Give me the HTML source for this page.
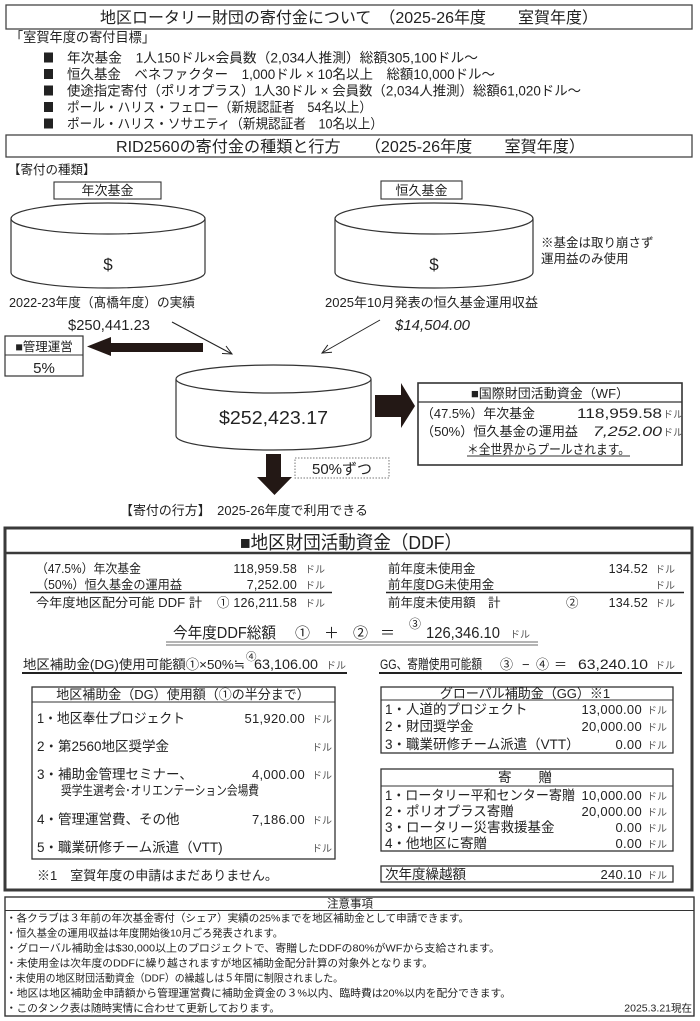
<!DOCTYPE html>
<html><head><meta charset="utf-8">
<style>
html,body{margin:0;padding:0;background:#fff;}
svg{display:block;}
text{font-family:"Liberation Sans","Noto Sans CJK JP",sans-serif;fill:#222;}
.dl{font-size:10px;fill:#555;}
.num{font-family:"Liberation Sans",sans-serif;}
</style></head><body>
<svg width="700" height="1021" viewBox="0 0 700 1021" xmlns="http://www.w3.org/2000/svg">
<rect x="0" y="0" width="700" height="1021" fill="#fff"/>

<!-- Title 1 -->
<rect x="6" y="5" width="686" height="24" fill="none" stroke="#444" stroke-width="1.3"/>
<text x="100" y="23" font-size="16" textLength="498" lengthAdjust="spacingAndGlyphs">地区ロータリー財団の寄付金について　（2025-26年度　　室賀年度）</text>

<text x="10" y="42" font-size="13.5" textLength="145" lengthAdjust="spacingAndGlyphs">「室賀年度の寄付目標」</text>

<rect x="44" y="52.5" width="9" height="10" fill="#222"/>
<text x="67" y="62.5" font-size="13.5" textLength="411" lengthAdjust="spacingAndGlyphs">年次基金　1人150ドル×会員数（2,034人推測）総額305,100ドル～</text>
<rect x="44" y="69" width="9" height="10" fill="#222"/>
<text x="67" y="79" font-size="13.5" textLength="428" lengthAdjust="spacingAndGlyphs">恒久基金　ベネファクター　1,000ドル × 10名以上　総額10,000ドル～</text>
<rect x="44" y="85.5" width="9" height="10" fill="#222"/>
<text x="67" y="95.5" font-size="13.5" textLength="514" lengthAdjust="spacingAndGlyphs">使途指定寄付（ポリオプラス）1人30ドル × 会員数（2,034人推測）総額61,020ドル～</text>
<rect x="44" y="102" width="9" height="10" fill="#222"/>
<text x="67" y="112" font-size="13.5" textLength="305" lengthAdjust="spacingAndGlyphs">ポール・ハリス・フェロー（新規認証者　54名以上）</text>
<rect x="44" y="118.5" width="9" height="10" fill="#222"/>
<text x="67" y="128.5" font-size="13.5" textLength="316" lengthAdjust="spacingAndGlyphs">ポール・ハリス・ソサエティ（新規認証者　10名以上）</text>

<!-- Title 2 -->
<rect x="6" y="135" width="686" height="22" fill="none" stroke="#444" stroke-width="1.3"/>
<text x="116" y="152" font-size="16" textLength="469" lengthAdjust="spacingAndGlyphs">RID2560の寄付金の種類と行方　　（2025-26年度　　室賀年度）</text>

<text x="8" y="174" font-size="12.5">【寄付の種類】</text>

<!-- label boxes -->
<rect x="54" y="182" width="107" height="17" fill="#fff" stroke="#333" stroke-width="1.1"/>
<text x="107.5" y="195" font-size="13" text-anchor="middle">年次基金</text>
<rect x="381" y="181" width="81" height="18" fill="#fff" stroke="#333" stroke-width="1.1"/>
<text x="421.5" y="195" font-size="13" text-anchor="middle">恒久基金</text>

<!-- Cylinder 1 -->
<path d="M11 218.5 V272.5 A97 15.5 0 0 0 205 272.5 V218.5" fill="#fff" stroke="#333" stroke-width="1.2"/>
<ellipse cx="108" cy="218.5" rx="97" ry="15.5" fill="#fff" stroke="#333" stroke-width="1.2"/>
<text x="108" y="270" font-size="17" text-anchor="middle">$</text>

<!-- Cylinder 2 -->
<path d="M335 218.5 V272.5 A99 15.5 0 0 0 533 272.5 V218.5" fill="#fff" stroke="#333" stroke-width="1.2"/>
<ellipse cx="434" cy="218.5" rx="99" ry="15.5" fill="#fff" stroke="#333" stroke-width="1.2"/>
<text x="434" y="270" font-size="17" text-anchor="middle">$</text>

<text x="541" y="247" font-size="12.5">※基金は取り崩さず</text>
<text x="541" y="263" font-size="12.5">運用益のみ使用</text>

<text x="9" y="307" font-size="13" textLength="186" lengthAdjust="spacingAndGlyphs">2022-23年度（髙橋年度）の実績</text>
<text x="68" y="330" font-size="14.5" textLength="82" lengthAdjust="spacingAndGlyphs">$250,441.23</text>
<text x="325" y="307" font-size="13" textLength="213" lengthAdjust="spacingAndGlyphs">2025年10月発表の恒久基金運用収益</text>
<text x="395" y="330" font-size="14.5" font-style="italic" textLength="75" lengthAdjust="spacingAndGlyphs">$14,504.00</text>

<!-- thin connector lines -->
<line x1="172" y1="322" x2="232" y2="354" stroke="#222" stroke-width="1"/>
<polyline points="222,353.5 232,354 226,346" fill="none" stroke="#222" stroke-width="1"/>
<line x1="380" y1="320" x2="322" y2="353" stroke="#222" stroke-width="1"/>
<polyline points="327.8,344.9 322,353 332,352.2" fill="none" stroke="#222" stroke-width="1"/>

<!-- 管理運営 -->
<rect x="5" y="336" width="78" height="40" fill="#fff" stroke="#333" stroke-width="1.2"/>
<line x1="5" y1="355" x2="83" y2="355" stroke="#333" stroke-width="1.1"/>
<text x="44" y="351" font-size="12.5" text-anchor="middle">■管理運営</text>
<text x="44" y="373" font-size="15" text-anchor="middle">5%</text>

<!-- left big arrow -->
<polygon points="87,346.5 111,337 111,343 203,343 203,352 111,352 111,356" fill="#231815"/>

<!-- Central cylinder -->
<path d="M176 379 V436 A97.5 14 0 0 0 371 436 V379" fill="#fff" stroke="#333" stroke-width="1.2"/>
<ellipse cx="273.5" cy="379" rx="97.5" ry="14" fill="#fff" stroke="#333" stroke-width="1.2"/>
<text x="219" y="424" font-size="18" textLength="109" lengthAdjust="spacingAndGlyphs">$252,423.17</text>

<!-- right big arrow -->
<polygon points="375,395 401,395 401,383 415,406 401,428 401,417 375,417" fill="#231815"/>

<!-- WF box -->
<rect x="418" y="383" width="264" height="82" fill="#fff" stroke="#333" stroke-width="1.6"/>
<line x1="418" y1="402" x2="682" y2="402" stroke="#333" stroke-width="1.2"/>
<text x="550" y="398" font-size="13" text-anchor="middle">■国際財団活動資金（WF）</text>
<text x="421" y="418" font-size="13" textLength="114" lengthAdjust="spacingAndGlyphs">（47.5%）年次基金</text>
<text x="577" y="418" font-size="14" class="num" textLength="85" lengthAdjust="spacingAndGlyphs">118,959.58</text>
<text x="663" y="418" class="dl">ドル</text>
<text x="421" y="436" font-size="13" textLength="157" lengthAdjust="spacingAndGlyphs">（50%）恒久基金の運用益</text>
<text x="593" y="436" font-size="14" font-style="italic" class="num" textLength="69" lengthAdjust="spacingAndGlyphs">7,252.00</text>
<text x="663" y="436" class="dl">ドル</text>
<text x="467" y="454" font-size="13" textLength="163" lengthAdjust="spacingAndGlyphs">＊全世界からプールされます。</text>
<line x1="467" y1="456" x2="630" y2="456" stroke="#333" stroke-width="1"/>

<!-- down arrow -->
<polygon points="266,454 281,454 281,477 292,477 274.5,495 257,477 266,477" fill="#231815"/>
<rect x="295" y="458" width="94" height="20" fill="none" stroke="#777" stroke-width="1" stroke-dasharray="1.5,1.5"/>
<text x="342" y="474" font-size="15" text-anchor="middle">50%ずつ</text>

<text x="120" y="515" font-size="13" textLength="248" lengthAdjust="spacingAndGlyphs">【寄付の行方】　2025-26年度で利用できる</text>

<!-- DDF box -->
<rect x="5" y="528" width="687" height="362" fill="none" stroke="#3a3a3a" stroke-width="3"/>
<line x1="5" y1="553" x2="692" y2="553" stroke="#3a3a3a" stroke-width="2.5"/>
<text x="240" y="549" font-size="18.5" textLength="222" lengthAdjust="spacingAndGlyphs">■地区財団活動資金（DDF）</text>

<text x="36" y="573" font-size="12.5" textLength="105" lengthAdjust="spacingAndGlyphs">（47.5%）年次基金</text>
<text x="297" y="573" font-size="12.5" class="num" text-anchor="end" letter-spacing="0.2">118,959.58</text>
<text x="305" y="573" class="dl">ドル</text>
<text x="36" y="589" font-size="12.5" textLength="146" lengthAdjust="spacingAndGlyphs">（50%）恒久基金の運用益</text>
<text x="297" y="589" font-size="12.5" class="num" text-anchor="end" letter-spacing="0.2">7,252.00</text>
<text x="305" y="589" class="dl">ドル</text>
<line x1="30" y1="592.5" x2="332" y2="592.5" stroke="#222" stroke-width="1.5"/>
<text x="36" y="607" font-size="12.5" textLength="166" lengthAdjust="spacingAndGlyphs">今年度地区配分可能 DDF 計</text>
<text x="217" y="607" font-size="12.5">①</text>
<text x="297" y="607" font-size="12.5" class="num" text-anchor="end" letter-spacing="0.2">126,211.58</text>
<text x="305" y="607" class="dl">ドル</text>

<text x="388" y="573" font-size="12.5">前年度未使用金</text>
<text x="648" y="573" font-size="12.5" class="num" text-anchor="end" letter-spacing="0.2">134.52</text>
<text x="655" y="573" class="dl">ドル</text>
<text x="388" y="589" font-size="12.5">前年度DG未使用金</text>
<text x="655" y="589" class="dl">ドル</text>
<line x1="386" y1="592.5" x2="684" y2="592.5" stroke="#222" stroke-width="1.5"/>
<text x="388" y="607" font-size="12.5">前年度未使用額　計</text>
<text x="566" y="607" font-size="12.5">②</text>
<text x="648" y="607" font-size="12.5" class="num" text-anchor="end" letter-spacing="0.2">134.52</text>
<text x="655" y="607" class="dl">ドル</text>

<text x="173" y="638" font-size="15.5" textLength="103" lengthAdjust="spacingAndGlyphs">今年度DDF総額</text>
<text x="295" y="638" font-size="15">①</text>
<text x="324" y="638" font-size="15">＋</text>
<text x="353" y="638" font-size="15">②</text>
<text x="380" y="638" font-size="15">＝</text>
<text x="409" y="628" font-size="12">③</text>
<text x="426" y="638" font-size="15.5" class="num" textLength="74" lengthAdjust="spacingAndGlyphs">126,346.10</text>
<text x="510" y="638" class="dl">ドル</text>
<line x1="166" y1="642" x2="538" y2="642" stroke="#888" stroke-width="1.2"/>
<line x1="166" y1="645" x2="538" y2="645" stroke="#888" stroke-width="1.2"/>

<text x="23" y="669" font-size="13" textLength="222" lengthAdjust="spacingAndGlyphs">地区補助金(DG)使用可能額①×50%≒</text>
<text x="246" y="660" font-size="10.5">④</text>
<text x="254" y="669" font-size="13.5" class="num" textLength="64" lengthAdjust="spacingAndGlyphs">63,106.00</text>
<text x="326" y="669" class="dl">ドル</text>
<line x1="22" y1="673" x2="347" y2="673" stroke="#222" stroke-width="2"/>

<text x="380" y="669" font-size="13.5" textLength="102" lengthAdjust="spacingAndGlyphs">GG、寄贈使用可能額</text>
<text x="500" y="669" font-size="13">③</text>
<text x="522" y="669" font-size="13">−</text>
<text x="536" y="669" font-size="13">④</text>
<text x="554" y="669" font-size="13">＝</text>
<text x="578" y="669" font-size="13.5" class="num" textLength="70" lengthAdjust="spacingAndGlyphs">63,240.10</text>
<text x="655" y="669" class="dl">ドル</text>
<line x1="379" y1="673" x2="682" y2="673" stroke="#222" stroke-width="2"/>

<!-- DG box -->
<rect x="32" y="687" width="303" height="172" fill="none" stroke="#333" stroke-width="1.3"/>
<line x1="32" y1="702" x2="335" y2="702" stroke="#333" stroke-width="1.1"/>
<text x="183" y="699" font-size="13" text-anchor="middle">地区補助金（DG）使用額（①の半分まで）</text>
<text x="37" y="723" font-size="13.5" textLength="148" lengthAdjust="spacingAndGlyphs">1・地区奉仕プロジェクト</text>
<text x="305" y="723" font-size="13" class="num" text-anchor="end" letter-spacing="0.3">51,920.00</text>
<text x="312" y="723" class="dl">ドル</text>
<text x="37" y="751" font-size="13.5">2・第2560地区奨学金</text>
<text x="312" y="751" class="dl">ドル</text>
<text x="37" y="779" font-size="13.5">3・補助金管理セミナー、</text>
<text x="305" y="779" font-size="13" class="num" text-anchor="end" letter-spacing="0.3">4,000.00</text>
<text x="312" y="779" class="dl">ドル</text>
<text x="61" y="795" font-size="13" textLength="198" lengthAdjust="spacingAndGlyphs">奨学生選考会･オリエンテーション会場費</text>
<text x="37" y="824" font-size="13.5">4・管理運営費、その他</text>
<text x="305" y="824" font-size="13" class="num" text-anchor="end" letter-spacing="0.3">7,186.00</text>
<text x="312" y="824" class="dl">ドル</text>
<text x="37" y="852" font-size="13.5">5・職業研修チーム派遣（VTT)</text>
<text x="312" y="852" class="dl">ドル</text>
<text x="37" y="880" font-size="13">※1　室賀年度の申請はまだありません。</text>

<!-- GG box -->
<rect x="381" y="687" width="292" height="66" fill="none" stroke="#333" stroke-width="1.3"/>
<line x1="381" y1="700" x2="673" y2="700" stroke="#333" stroke-width="1.1"/>
<text x="525" y="698" font-size="13" text-anchor="middle">グローバル補助金（GG）※1</text>
<text x="385" y="714" font-size="13.5">1・人道的プロジェクト</text>
<text x="642" y="714" font-size="13" class="num" text-anchor="end" letter-spacing="0.3">13,000.00</text>
<text x="647" y="714" class="dl">ドル</text>
<text x="385" y="731" font-size="13.5">2・財団奨学金</text>
<text x="642" y="731" font-size="13" class="num" text-anchor="end" letter-spacing="0.3">20,000.00</text>
<text x="647" y="731" class="dl">ドル</text>
<text x="385" y="749" font-size="13.5">3・職業研修チーム派遣（VTT）</text>
<text x="642" y="749" font-size="13" class="num" text-anchor="end" letter-spacing="0.3">0.00</text>
<text x="647" y="749" class="dl">ドル</text>

<!-- 寄贈 box -->
<rect x="381" y="769" width="292" height="82" fill="none" stroke="#333" stroke-width="1.3"/>
<line x1="381" y1="786" x2="673" y2="786" stroke="#333" stroke-width="1.1"/>
<text x="525" y="782" font-size="13.5" text-anchor="middle">寄　　贈</text>
<text x="385" y="800" font-size="13.5" textLength="190" lengthAdjust="spacingAndGlyphs">1・ロータリー平和センター寄贈</text>
<text x="642" y="800" font-size="13" class="num" text-anchor="end" letter-spacing="0.3">10,000.00</text>
<text x="647" y="800" class="dl">ドル</text>
<text x="385" y="816" font-size="13.5">2・ポリオプラス寄贈</text>
<text x="642" y="816" font-size="13" class="num" text-anchor="end" letter-spacing="0.3">20,000.00</text>
<text x="647" y="816" class="dl">ドル</text>
<text x="385" y="832" font-size="13.5">3・ロータリー災害救援基金</text>
<text x="642" y="832" font-size="13" class="num" text-anchor="end" letter-spacing="0.3">0.00</text>
<text x="647" y="832" class="dl">ドル</text>
<text x="385" y="848" font-size="13.5">4・他地区に寄贈</text>
<text x="642" y="848" font-size="13" class="num" text-anchor="end" letter-spacing="0.3">0.00</text>
<text x="647" y="848" class="dl">ドル</text>

<!-- 次年度繰越額 -->
<rect x="381" y="866" width="292" height="16" fill="none" stroke="#333" stroke-width="1.3"/>
<text x="385" y="879" font-size="13.5">次年度繰越額</text>
<text x="642" y="879" font-size="13" class="num" text-anchor="end" letter-spacing="0.3">240.10</text>
<text x="647" y="879" class="dl">ドル</text>

<!-- Notes -->
<rect x="5" y="897" width="689" height="119" fill="none" stroke="#333" stroke-width="1.4"/>
<line x1="5" y1="910.5" x2="694" y2="910.5" stroke="#333" stroke-width="1"/>
<text x="350" y="907.5" font-size="11.5" text-anchor="middle">注意事項</text>
<text x="6" y="921.5" font-size="10.5" textLength="463" lengthAdjust="spacingAndGlyphs">・各クラブは３年前の年次基金寄付（シェア）実績の25%までを地区補助金として申請できます。</text>
<text x="6" y="936.5" font-size="10.5" textLength="277" lengthAdjust="spacingAndGlyphs">・恒久基金の運用収益は年度開始後10月ごろ発表されます。</text>
<text x="6" y="951.5" font-size="10.5" textLength="494" lengthAdjust="spacingAndGlyphs">・グローバル補助金は$30,000以上のプロジェクトで、寄贈したDDFの80%がWFから支給されます。</text>
<text x="6" y="966.5" font-size="10.5" textLength="427" lengthAdjust="spacingAndGlyphs">・未使用金は次年度のDDFに繰り越されますが地区補助金配分計算の対象外となります。</text>
<text x="6" y="981.5" font-size="10.5" textLength="337" lengthAdjust="spacingAndGlyphs">・未使用の地区財団活動資金（DDF）の繰越しは５年間に制限されました。</text>
<text x="6" y="996.5" font-size="10.5" textLength="505" lengthAdjust="spacingAndGlyphs">・地区は地区補助金申請額から管理運営費に補助金資金の３%以内、臨時費は20%以内を配分できます。</text>
<text x="6" y="1011.5" font-size="10.5" textLength="274" lengthAdjust="spacingAndGlyphs">・このタンク表は随時実情に合わせて更新しております。</text>
<text x="692" y="1011.5" font-size="10.5" text-anchor="end">2025.3.21現在</text>
</svg>
</body></html>
